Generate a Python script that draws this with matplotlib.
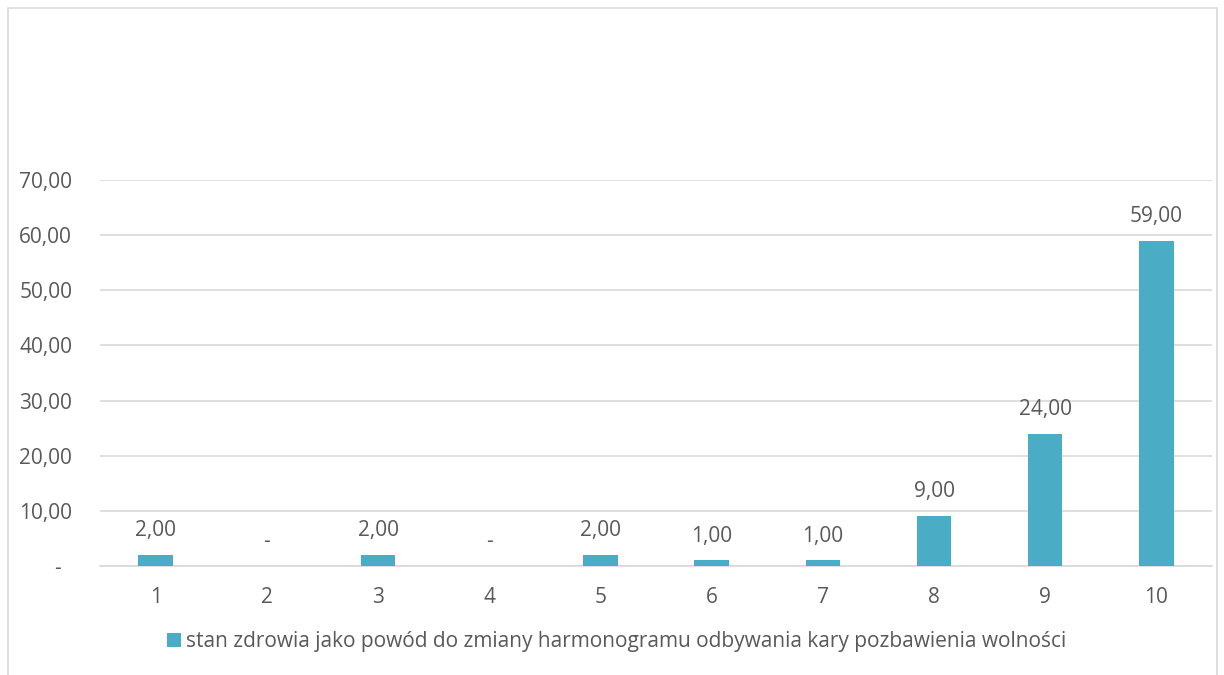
import matplotlib.pyplot as plt
from matplotlib.patches import Rectangle
from matplotlib.ticker import FuncFormatter

categories = ['1', '2', '3', '4', '5', '6', '7', '8', '9', '10']
values = [2, 0, 2, 0, 2, 1, 1, 9, 24, 59]
series_name = 'stan zdrowia jako powód do zmiany harmonogramu odbywania kary pozbawienia wolności'

bar_color = '#4BACC6'
text_color = '#595959'
grid_color = '#D9D9D9'

plt.rcParams['font.family'] = ['Open Sans', 'DejaVu Sans']

def fmt(v):
    if v == 0:
        return '-'
    return '{:.2f}'.format(v).replace('.', ',')

fig = plt.figure(figsize=(12.24, 6.75), dpi=100)
ax = fig.add_axes([0.0817, 0.1615, 0.9085, 0.5718])

x = range(len(categories))
bars = ax.bar(x, values, width=0.31, color=bar_color, label=series_name, zorder=3)

for xi, v in zip(x, values):
    ax.annotate(fmt(v), (xi, v), xytext=(0, 10), textcoords='offset points',
                ha='center', va='bottom', fontsize=15, color=text_color)

ax.set_xlim(-0.5, len(categories) - 0.5)
ax.set_ylim(0, 70)
ax.set_yticks(range(0, 71, 10))
ax.yaxis.set_major_formatter(FuncFormatter(lambda v, p: '-  ' if v == 0 else fmt(v)))
ax.set_xticks(list(x))
ax.set_xticklabels(categories)
ax.tick_params(axis='both', length=0, labelsize=15, labelcolor=text_color)
ax.tick_params(axis='y', pad=20)
ax.tick_params(axis='x', pad=15)
ax.grid(axis='y', color=grid_color, linewidth=1.2, zorder=0)
for s in ['top', 'right', 'left']:
    ax.spines[s].set_visible(False)
ax.spines['bottom'].set_color(grid_color)
ax.spines['bottom'].set_linewidth(1.2)

ax.legend(loc='center', bbox_to_anchor=(0.504, 0.049), bbox_transform=fig.transFigure,
          frameon=False, fontsize=15, labelcolor=text_color,
          handlelength=0.65, handleheight=0.65, handletextpad=0.25)

# chart border
fig.patches.append(Rectangle((8 / 1224, -0.01), 1209 / 1224, 1 - 8 / 675 + 0.01,
                             transform=fig.transFigure, fill=False,
                             edgecolor=grid_color, linewidth=1.2))

fig.savefig('out.png', dpi=100)
